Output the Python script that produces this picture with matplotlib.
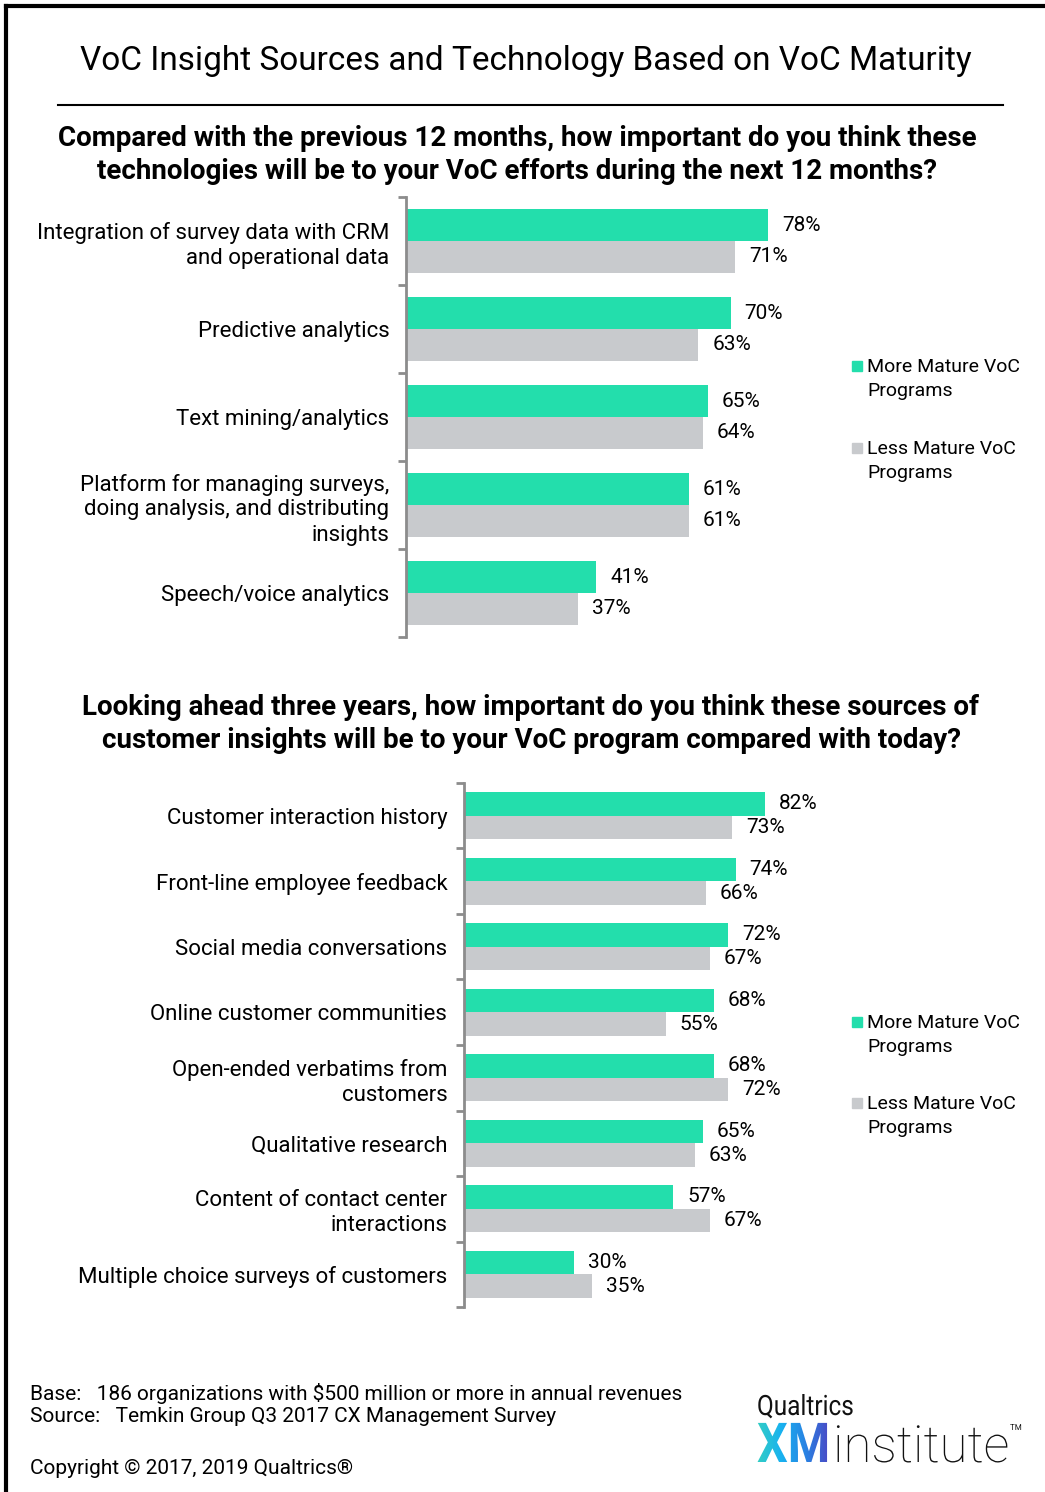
import numpy as np
import matplotlib.pyplot as plt
from matplotlib.lines import Line2D
from matplotlib.patches import Rectangle, PathPatch
from matplotlib.textpath import TextPath
from matplotlib.font_manager import FontProperties
from matplotlib.transforms import Affine2D
from matplotlib.colors import LinearSegmentedColormap

plt.rcParams['font.family'] = ['Roboto', 'DejaVu Sans']

W, H = 1045, 1492

# technologies (top panel)
tech_labels = ['Integration of survey data with CRM\nand operational data',
               'Predictive analytics',
               'Text mining/analytics',
               'Platform for managing surveys,\ndoing analysis, and distributing\ninsights',
               'Speech/voice analytics']
tech_more = [78, 70, 65, 61, 41]
tech_less = [71, 63, 64, 61, 37]

# insight sources (bottom panel)
src_labels = ['Customer interaction history',
              'Front-line employee feedback',
              'Social media conversations',
              'Online customer communities',
              'Open-ended verbatims from\ncustomers',
              'Qualitative research',
              'Content of contact center\ninteractions',
              'Multiple choice surveys of customers']
src_more = [82, 74, 72, 68, 68, 65, 57, 30]
src_less = [73, 66, 67, 55, 72, 63, 67, 35]

series_names = ['More Mature VoC\nPrograms', 'Less Mature VoC\nPrograms']

GREEN = '#23DEAC'
GREY = '#C8CACD'
SPINE = '#8C8C8C'

fig = plt.figure(figsize=(W / 100, H / 100), dpi=100)


def fx(x):
    return x / W


def fy(y):
    return 1 - y / H


def panel(x, y, w, h, labels, more, less):
    ax = fig.add_axes([fx(x), fy(y + h), w / W, h / H])
    n = len(labels)
    pos = np.arange(n)
    ax.barh(pos - 0.18, more, height=0.36, color=GREEN)
    ax.barh(pos + 0.18, less, height=0.36, color=GREY)
    ax.set_xlim(0, 100)
    ax.set_ylim(n - 0.5, -0.5)
    for s in ['top', 'right', 'bottom']:
        ax.spines[s].set_visible(False)
    ax.spines['left'].set_color(SPINE)
    ax.spines['left'].set_linewidth(2)
    ax.set_xticks([])
    ax.set_yticks(pos)
    ax.set_yticklabels(labels, fontsize=16)
    for t in ax.get_yticklabels():
        t.set_linespacing(1.25)
    ax.tick_params(axis='y', which='major', length=0, pad=12)
    ax.set_yticks(np.arange(n + 1) - 0.5, minor=True)
    ax.tick_params(axis='y', which='minor', length=6, width=2, color=SPINE)
    for p, m, l in zip(pos, more, less):
        ax.annotate(f'{m}%', (m, p - 0.18), xytext=(10, 0), textcoords='offset points',
                    va='center', fontsize=15)
        ax.annotate(f'{l}%', (l, p + 0.18), xytext=(10, 0), textcoords='offset points',
                    va='center', fontsize=15)
    return ax


def legend_block(x, y_first, y_second):
    for yy, col, name in [(y_first, GREEN, series_names[0]), (y_second, GREY, series_names[1])]:
        fig.add_artist(Rectangle((fx(x), fy(yy + 5)), 10 / W, 10 / H, color=col,
                                 transform=fig.transFigure))
        fig.text(fx(x + 15), fy(yy - 8), name, va='top', ha='left', fontsize=14,
                 linespacing=1.45)


# frame around the page
fig.add_artist(Line2D([fx(6), fx(6)], [fy(6), fy(1500)], color='black', lw=3))
fig.add_artist(Line2D([fx(6), fx(1050)], [fy(6), fy(6)], color='black', lw=3))

fig.text(fx(526), fy(61), 'VoC Insight Sources and Technology Based on VoC Maturity',
         ha='center', va='center', fontsize=24)
fig.add_artist(Line2D([fx(58), fx(1003)], [fy(105), fy(105)], color='black', lw=1.5))

fig.text(fx(517), fy(155),
         'Compared with the previous 12 months, how important do you think these\n'
         'technologies will be to your VoC efforts during the next 12 months?',
         ha='center', va='center', fontsize=20, fontweight='bold', linespacing=1.32)
panel(406, 197, 464, 440, tech_labels, tech_more, tech_less)
legend_block(852, 366, 448)

fig.text(fx(531), fy(724),
         'Looking ahead three years, how important do you think these sources of\n'
         'customer insights will be to your VoC program compared with today?',
         ha='center', va='center', fontsize=20, fontweight='bold', linespacing=1.32)
panel(464, 783, 367, 524, src_labels, src_more, src_less)
legend_block(852, 1022, 1103)

fig.text(fx(30), fy(1393), 'Base:   186 organizations with $500 million or more in annual revenues',
         va='center', fontsize=15)
fig.text(fx(30), fy(1417), 'Source:   Temkin Group Q3 2017 CX Management Survey',
         va='center', fontsize=15)
fig.text(fx(30), fy(1469), 'Copyright \u00a9 2017, 2019 Qualtrics\u00ae',
         va='center', fontsize=15)

# logo drawn as text paths in pixel units
lax = fig.add_axes([fx(740), 0, (W - 740) / W, 112 / H])
lax.axis('off')


def word(txt, x, y, size, sx, weight='normal'):
    fp = FontProperties(family='Roboto', weight=weight)
    path = TextPath((0, 0), txt, size=size, prop=fp)
    return Affine2D().scale(sx, 1).translate(x, y).transform_path(path)


lax.add_patch(PathPatch(word('Qualtrics', 757, H - 1415, 28, 0.87), color='#111111', lw=0))
lax.add_patch(PathPatch(word('institute', 833, H - 1462, 51, 1.0, 'light'), color='#111111', lw=0))
lax.add_patch(PathPatch(word('TM', 1010, H - 1430, 8, 1.0), color='#111111', lw=0))
xm = PathPatch(word('XM', 757, H - 1462, 55, 0.88, 'bold'), facecolor='none', lw=0)
lax.add_patch(xm)
cmap = LinearSegmentedColormap.from_list('xm', ['#35D0C0', '#18B2F0', '#2A80E2', '#5040C0'])
im = lax.imshow(np.linspace(0, 1, 200).reshape(1, -1), cmap=cmap, aspect='auto',
                extent=(755, 833, H - 1470, H - 1415))
im.set_clip_path(xm)
lax.set_xlim(740, W)
lax.set_ylim(0, 112)

fig.savefig('out.png', dpi=100)
